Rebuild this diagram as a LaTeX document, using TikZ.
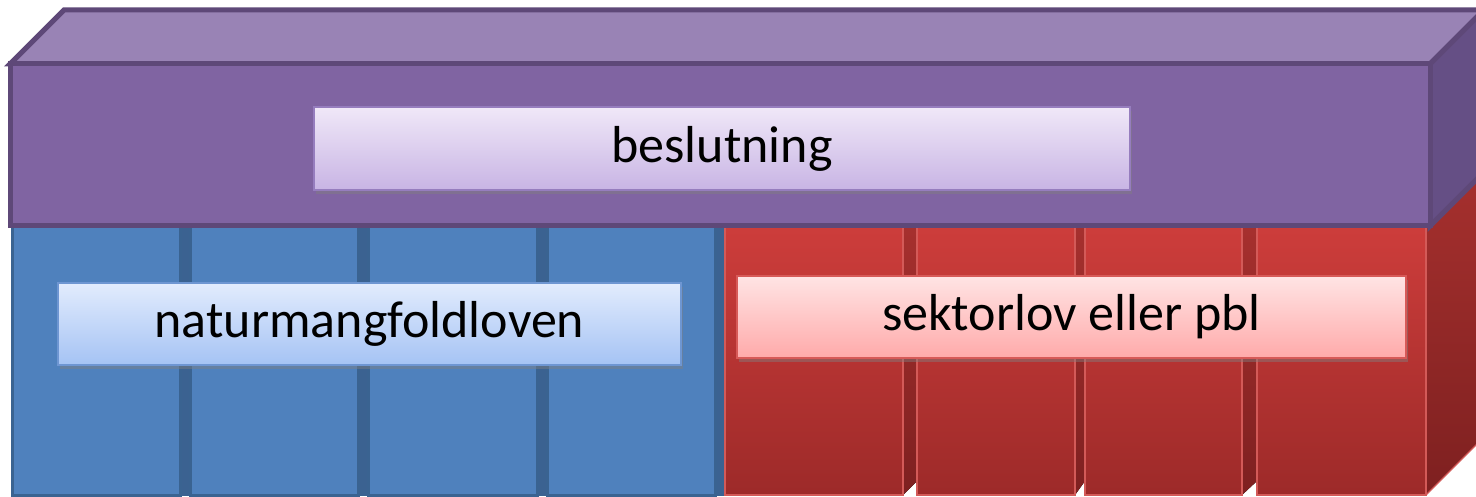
\documentclass[tikz,border=0pt]{standalone}
\usepackage{fontspec}
\setmainfont{Carlito}
\usetikzlibrary{shadows}
\definecolor{pfront}{HTML}{8064A2}
\definecolor{ptop}{HTML}{9983B5}
\definecolor{pside}{HTML}{654F85}
\definecolor{pline}{HTML}{5E4878}
\definecolor{bfill}{HTML}{4F81BD}
\definecolor{bdark}{HTML}{3B6291}
\definecolor{bline}{HTML}{3A6391}
\definecolor{rtop}{HTML}{CD3D3B}
\definecolor{rbot}{HTML}{9D2A29}
\definecolor{rdtop}{HTML}{A6302E}
\definecolor{rdbot}{HTML}{7E2020}
\definecolor{rline}{HTML}{D35A58}
\tikzset{
  purpleface/.style={draw=pline, line width=5pt, line join=miter},
  bluecol/.style={fill=bfill, draw=bline, line width=3pt},
  bluestrip/.style={fill=bdark},
  redcol/.style={top color=rtop, bottom color=rbot, draw=rline, line width=1.2pt},
  redstrip/.style={top color=rdtop, bottom color=rdbot},
  labelbox/.style={inner sep=0pt, font=\fontsize{52}{60}\selectfont,
    drop shadow={opacity=0.45, shadow xshift=2pt, shadow yshift=-4pt}},
}
\begin{document}
\begin{tikzpicture}[x=1pt,y=-1pt]
\useasboundingbox (0,0) rectangle (1476,497);
\clip (0,0) rectangle (1476,497);
% blue columns
\foreach \l/\r in {12/180,190/358,368/537,547/715}{
  \fill[bluestrip] (\r,226) rectangle (\r+10,496);
  \draw[bluecol] (\l,226) rectangle (\r,495);
}
% red columns
\foreach \l/\r/\n in {725/903/917,917/1075/1085,1085/1242/1257}{
  \fill[redstrip] (\r,226) -- (\n,226) -- (\n,481) -- (\r,495) -- cycle;
  \draw[redcol] (\l,226) rectangle (\r,495);
}
\fill[redstrip] (1426,226) -- (1484,168) -- (1484,437) -- (1426,495) -- cycle;
\draw[rline, line width=1.2pt] (1426,495) -- (1484,437);
\draw[redcol] (1257,226) rectangle (1426,495);
% purple box
\filldraw[purpleface, fill=ptop] (10,64) -- (64,10) -- (1484,10) -- (1430,64) -- cycle;
\filldraw[purpleface, fill=pside] (1430,64) -- (1484,10) -- (1484,172) -- (1430,226) -- cycle;
\filldraw[purpleface, fill=pfront] (10,64) rectangle (1430,226);
% labels
\node[labelbox, minimum width=816pt, minimum height=83pt,
  top color={rgb,255:red,240;green,232;blue,248}, bottom color={rgb,255:red,200;green,180;blue,228},
  draw={rgb,255:red,150;green,125;blue,190}, line width=1.5pt] (bes) at (722,148.5) {\raisebox{-1pt}{beslutning}};
\node[labelbox, minimum width=623pt, minimum height=82pt,
  top color={rgb,255:red,226;green,236;blue,253}, bottom color={rgb,255:red,165;green,195;blue,244},
  draw={rgb,255:red,110;green,150;blue,210}, line width=1.5pt] (nat) at (369.5,324) {\raisebox{-3pt}{naturmangfoldloven}};
\node[labelbox, minimum width=669pt, minimum height=82pt,
  top color={rgb,255:red,255;green,228;blue,228}, bottom color={rgb,255:red,255;green,170;blue,170},
  draw={rgb,255:red,215;green,90;blue,88}, line width=1.5pt] (sek) at (1071.5,317) {\raisebox{-3pt}{sektorlov eller pbl}};
\end{tikzpicture}
\end{document}
